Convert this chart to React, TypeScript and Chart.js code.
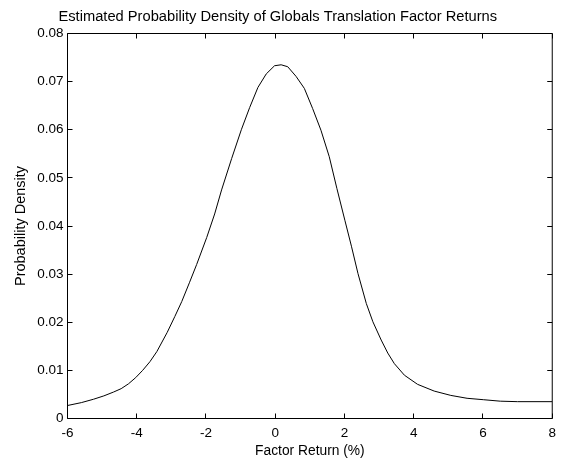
import React, { useEffect, useRef } from "react";
import { Chart, registerables } from "chart.js";

Chart.register(...registerables);

const chartTitle = "Estimated Probability Density of Globals Translation Factor Returns";
const xAxisTitle = "Factor Return (%)";
const yAxisTitle = "Probability Density";

const factorReturns = [
  -6.0, -5.6, -5.25, -4.95, -4.67, -4.45, -4.24, -4.03, -3.83, -3.62, -3.42, -3.12, -2.9, -2.7, -2.48,
  -2.27, -1.98, -1.75, -1.55, -1.26, -0.98, -0.74, -0.5, -0.26, -0.02, 0.17, 0.36, 0.6, 0.84, 1.08,
  1.32, 1.56, 1.78, 2.01, 2.2, 2.39, 2.63, 2.82, 3.06, 3.25, 3.44, 3.73, 4.11, 4.59, 5.07, 5.54,
  6.02, 6.5, 7.0, 8.0,
];
const densities = [
  0.0027, 0.0033, 0.004, 0.0047, 0.0055, 0.0062, 0.0072, 0.0085, 0.01, 0.0118, 0.0139, 0.0179, 0.0212,
  0.0243, 0.0282, 0.032, 0.0376, 0.0425, 0.0475, 0.054, 0.06, 0.0646, 0.0688, 0.0716, 0.0733, 0.0735,
  0.0731, 0.0711, 0.0686, 0.0644, 0.0599, 0.0544, 0.0478, 0.0412, 0.0358, 0.0301, 0.0239, 0.0201,
  0.0163, 0.0136, 0.0114, 0.009, 0.0071, 0.0057, 0.0048, 0.0042, 0.0039, 0.0036, 0.0035, 0.0035,
];
const xTickValues = [-6, -4, -2, 0, 2, 4, 6, 8];
const yTickValues = [0, 0.01, 0.02, 0.03, 0.04, 0.05, 0.06, 0.07, 0.08];

const FONT = "'Liberation Sans', Arial, Helvetica, sans-serif";

const boxPlugin = {
  id: "matlabBox",
  afterDraw(chart: any) {
    const { ctx, chartArea } = chart;
    const { left, right, top, bottom } = chartArea;
    const xs = chart.scales.x;
    const ys = chart.scales.y;
    const len = 5;
    ctx.save();
    ctx.strokeStyle = "#000";
    ctx.lineWidth = 1;
    ctx.beginPath();
    ctx.rect(left, top, right - left, bottom - top);
    xTickValues.forEach((v) => {
      const px = Math.round(xs.getPixelForValue(v) - 0.5) + 0.5;
      ctx.moveTo(px, bottom);
      ctx.lineTo(px, bottom - len);
      ctx.moveTo(px, top);
      ctx.lineTo(px, top + len);
    });
    yTickValues.forEach((v) => {
      const py = Math.round(ys.getPixelForValue(v) - 0.5) + 0.5;
      ctx.moveTo(left, py);
      ctx.lineTo(left + len, py);
      ctx.moveTo(right, py);
      ctx.lineTo(right - len, py);
    });
    ctx.stroke();
    ctx.restore();
  },
};

export default function App() {
  const ref = useRef<HTMLCanvasElement | null>(null);
  useEffect(() => {
    if (!ref.current) return;
    const chart = new Chart(ref.current, {
      type: "line",
      data: {
        datasets: [
          {
            data: factorReturns.map((x, i) => ({ x, y: densities[i] })),
            borderColor: "#000",
            borderWidth: 1,
            pointRadius: 0,
            tension: 0,
            fill: false,
          },
        ],
      },
      options: {
        animation: false,
        responsive: false,
        devicePixelRatio: 1,
        layout: { padding: { left: 0, right: 7.5, top: 0, bottom: 0 } },
        plugins: {
          legend: { display: false },
          tooltip: { enabled: false },
          title: {
            display: true,
            text: chartTitle,
            color: "#000",
            font: { family: FONT, size: 14.7, weight: "normal" },
            padding: { top: 8.2, bottom: 7.66 },
          },
        },
        scales: {
          x: {
            type: "linear",
            min: -6,
            max: 8,
            afterBuildTicks: (scale: any) => {
              scale.ticks = xTickValues.map((v) => ({ value: v }));
            },
            afterFit: (scale: any) => {
              scale.height = 44.5;
            },
            grid: { display: false, drawTicks: false },
            border: { display: false },
            ticks: {
              color: "#000",
              font: { family: FONT, size: 13.5 },
              padding: 7,
              maxRotation: 0,
              autoSkip: false,
              callback: (v: any) => String(v),
            },
            title: {
              display: true,
              text: xAxisTitle,
              color: "#000",
              font: { family: FONT, size: 13.8 },
              padding: { top: 0, bottom: 4 },
            },
          },
          y: {
            type: "linear",
            min: 0,
            max: 0.08,
            afterBuildTicks: (scale: any) => {
              scale.ticks = yTickValues.map((v) => ({ value: v }));
            },
            afterFit: (scale: any) => {
              scale.width = 67.5;
            },
            grid: { display: false, drawTicks: false },
            border: { display: false },
            ticks: {
              color: "#000",
              font: { family: FONT, size: 13.5 },
              padding: 4,
              autoSkip: false,
              callback: (v: any) => String(Number(Number(v).toFixed(2))),
            },
            title: {
              display: true,
              text: yAxisTitle,
              color: "#000",
              font: { family: FONT, size: 14.5 },
              padding: { top: 11.9, bottom: 0 },
            },
          },
        },
      },
      plugins: [boxPlugin],
    });
    return () => chart.destroy();
  }, []);
  return (
    <div style={{ position: "fixed", left: 0, top: 0, width: 563, height: 463, background: "#fff" }}>
      <canvas ref={ref} width={563} height={463} style={{ display: "block" }} />
    </div>
  );
}
